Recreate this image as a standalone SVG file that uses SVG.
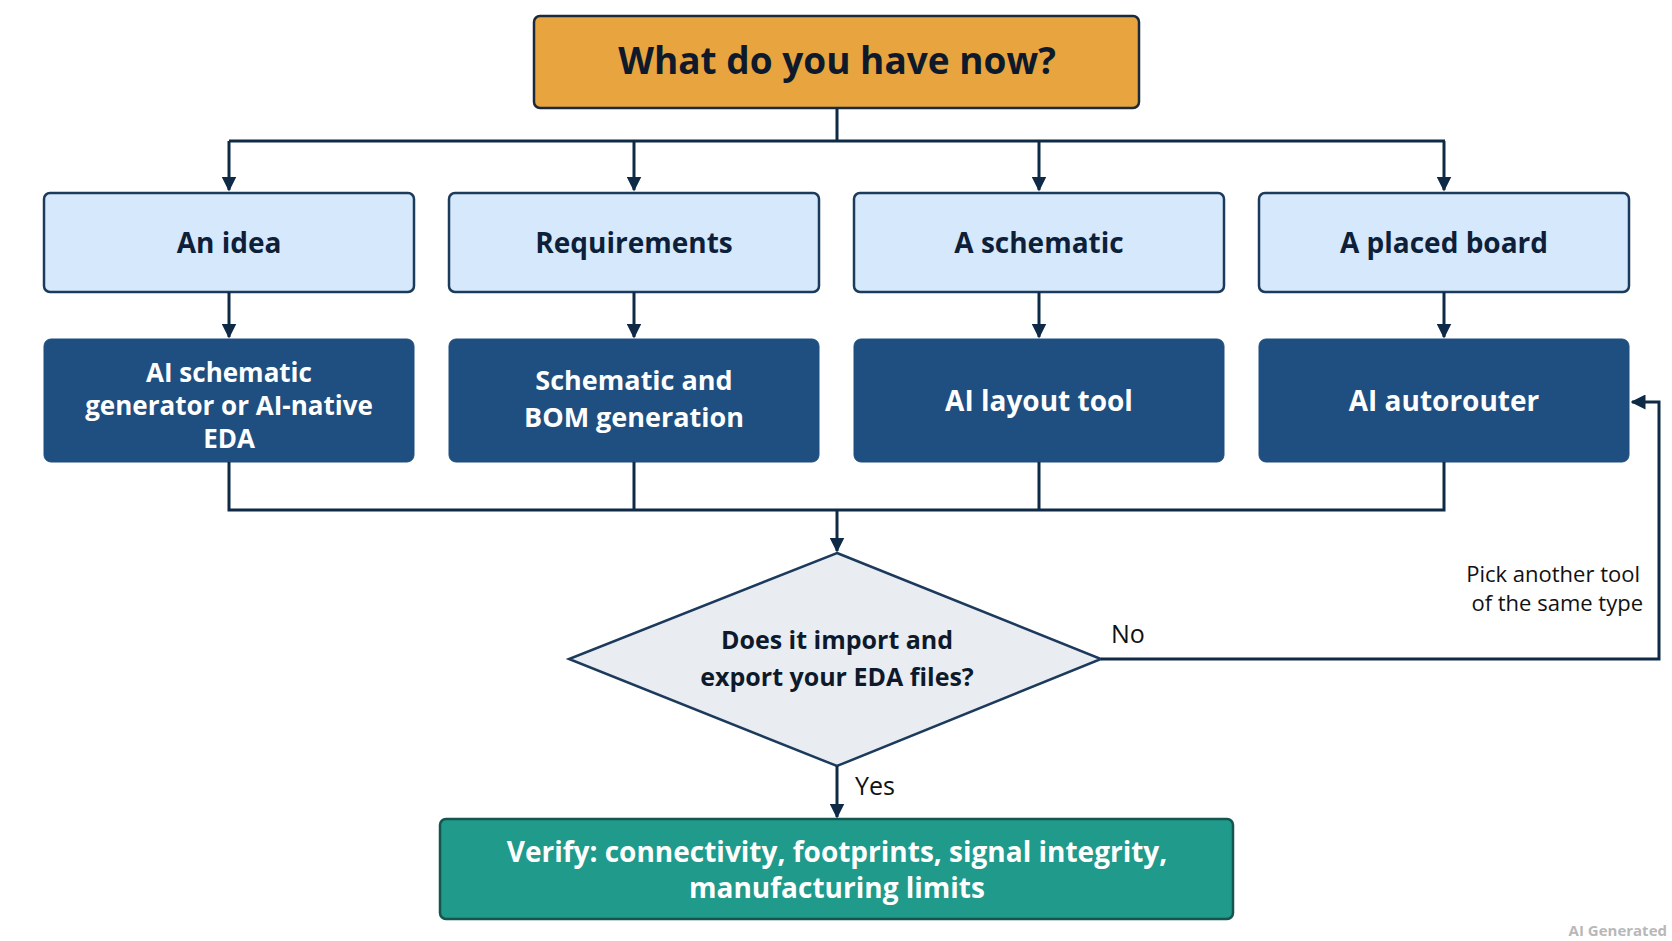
<svg xmlns="http://www.w3.org/2000/svg" width="1672" height="941" viewBox="0 0 1672 941">
<defs>
<marker id="ah" viewBox="0 0 10 10" refX="9" refY="5" markerWidth="5" markerHeight="5" orient="auto"><path d="M0,0 L10,5 L0,10 z" fill="#0f2a47"/></marker>
<style>
.t{font-family:"Open Sans","Liberation Sans",sans-serif;font-weight:700;text-anchor:middle}
.light{fill:#d6e8fb;stroke:#1b3a5c;stroke-width:2.5}
.dark{fill:#1f4f80;stroke:#1f4f80}
.c{fill:none;stroke:#0f2a47;stroke-width:3}
</style>
</defs>
<rect width="1672" height="941" fill="#ffffff"/>
<g id="top"><rect x="534" y="16" width="605" height="92" rx="6" fill="#e8a43f" stroke="#1b2a3a" stroke-width="2.5"/><text class="t" x="837" y="74" font-size="37" fill="#0e1a2b">What do you have now?</text></g>
<g id="n1"><rect class="light" x="44" y="193" width="370" height="99" rx="6"/><text class="t" x="229" y="253" font-size="28" fill="#0e1f3a">An idea</text></g>
<g id="n2"><rect class="light" x="449" y="193" width="370" height="99" rx="6"/><text class="t" x="634" y="253" font-size="28" fill="#0e1f3a">Requirements</text></g>
<g id="n3"><rect class="light" x="854" y="193" width="370" height="99" rx="6"/><text class="t" x="1039" y="253" font-size="28" fill="#0e1f3a">A schematic</text></g>
<g id="n4"><rect class="light" x="1259" y="193" width="370" height="99" rx="6"/><text class="t" x="1444" y="253" font-size="28" fill="#0e1f3a">A placed board</text></g>
<g id="d1"><rect class="dark" x="44" y="339" width="370" height="123" rx="7"/><text class="t" font-size="26" fill="#fff"><tspan x="229" y="382">AI schematic</tspan><tspan x="229" y="415">generator or AI-native</tspan><tspan x="229" y="448">EDA</tspan></text></g>
<g id="d2"><rect class="dark" x="449" y="339" width="370" height="123" rx="7"/><text class="t" font-size="27" fill="#fff"><tspan x="634" y="390">Schematic and</tspan><tspan x="634" y="427">BOM generation</tspan></text></g>
<g id="d3"><rect class="dark" x="854" y="339" width="370" height="123" rx="7"/><text class="t" x="1039" y="411" font-size="28" fill="#fff">AI layout tool</text></g>
<g id="d4"><rect class="dark" x="1259" y="339" width="370" height="123" rx="7"/><text class="t" x="1444" y="411" font-size="28" fill="#fff">AI autorouter</text></g>
<g id="dec"><polygon points="837,553 1101,659 837,766 569,659" fill="#e9edf2" stroke="#1b3a5c" stroke-width="2.5"/><text class="t" font-size="25" fill="#0e1a2b"><tspan x="837" y="649">Does it import and</tspan><tspan x="837" y="686">export your EDA files?</tspan></text></g>
<g id="ver"><rect x="440" y="819" width="793" height="100" rx="6" fill="#1f9a8b" stroke="#14564f" stroke-width="2.5"/><text class="t" font-size="28" fill="#fff"><tspan x="837" y="862">Verify: connectivity, footprints, signal integrity,</tspan><tspan x="837" y="898">manufacturing limits</tspan></text></g>
<g id="connectors">
<path class="c" d="M837,108 V141 M229,141 H1445"/>
<path class="c" marker-end="url(#ah)" d="M229,141 V190"/>
<path class="c" marker-end="url(#ah)" d="M634,141 V190"/>
<path class="c" marker-end="url(#ah)" d="M1039,141 V190"/>
<path class="c" marker-end="url(#ah)" d="M1444,141 V190"/>
<path class="c" marker-end="url(#ah)" d="M229,292 V337"/>
<path class="c" marker-end="url(#ah)" d="M634,292 V337"/>
<path class="c" marker-end="url(#ah)" d="M1039,292 V337"/>
<path class="c" marker-end="url(#ah)" d="M1444,292 V337"/>
<path class="c" d="M229,462 V510 H1444 V462 M634,462 V510 M1039,462 V510"/>
<path class="c" marker-end="url(#ah)" d="M837,510 V551"/>
<path class="c" marker-end="url(#ah)" d="M837,766 V817"/>
<path class="c" marker-end="url(#ah)" d="M1101,659 H1659 V402 H1632"/>
</g>
<g font-family="Open Sans, Liberation Sans, sans-serif" fill="#111">
<text x="1111" y="643" font-size="25">No</text>
<text x="855" y="795" font-size="25">Yes</text>
<text x="1640" y="582" font-size="22" text-anchor="end">Pick another tool</text>
<text x="1643" y="611" font-size="22" text-anchor="end">of the same type</text>
<text x="1667" y="936" font-size="15" text-anchor="end" fill="#b8b8b8" font-weight="700">AI Generated</text>
</g>
</svg>
